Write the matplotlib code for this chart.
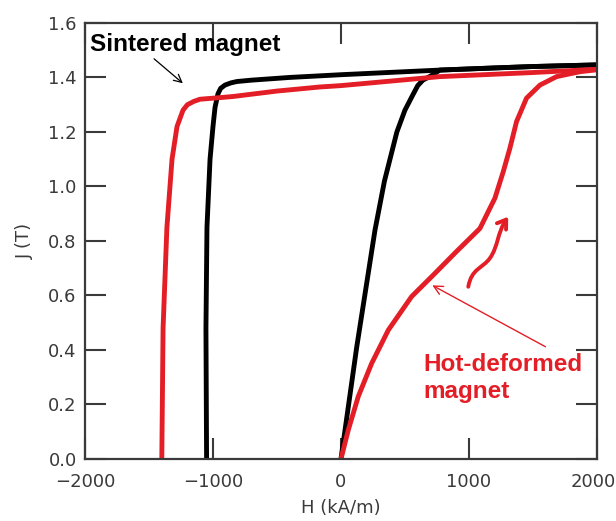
import matplotlib
matplotlib.use("Agg")
import matplotlib.pyplot as plt
import matplotlib.transforms as mtransforms
from matplotlib.path import Path
from matplotlib.patches import FancyArrowPatch

# ---- data ----
sint_init_H = [0, 123, 266, 340, 437, 500, 555, 600, 640, 700, 773, 1200, 1500, 2000]
sint_init_J = [0, 0.41, 0.84, 1.02, 1.2, 1.28, 1.33, 1.37, 1.39, 1.405, 1.427, 1.435, 1.44, 1.446]

sint_demag_H = [2000, 1500, 773, 0, -400, -700, -813, -860, -906, -940, -961, -984, -1000, -1023, -1047, -1055, -1050]
sint_demag_J = [1.446, 1.44, 1.427, 1.41, 1.40, 1.39, 1.385, 1.38, 1.372, 1.36, 1.34, 1.29, 1.22, 1.10, 0.85, 0.48, 0.0]

hot_init_H = [0, 57, 135, 240, 370, 552, 734, 900, 1086, 1203, 1268, 1320, 1372, 1450, 1555, 1685, 1867, 2000]
hot_init_J = [0, 0.106, 0.229, 0.351, 0.473, 0.596, 0.681, 0.76, 0.846, 0.957, 1.054, 1.14, 1.238, 1.324, 1.372, 1.403, 1.421, 1.428]

hot_demag_H = [2000, 1500, 773, 0, -164, -500, -844, -969, -1102, -1150, -1200, -1234, -1281, -1320, -1360, -1390, -1400]
hot_demag_J = [1.43, 1.418, 1.403, 1.37, 1.365, 1.35, 1.33, 1.325, 1.32, 1.312, 1.30, 1.28, 1.22, 1.10, 0.85, 0.48, 0.0]

x_ticks = [-2000, -1000, 0, 1000, 2000]
x_labels = ["\u22122000", "\u22121000", "0", "1000", "2000"]
y_ticks = [0.0, 0.2, 0.4, 0.6, 0.8, 1.0, 1.2, 1.4, 1.6]

BLACK = "#000000"
RED = "#e41e26"
GRAY = "#3a3a3a"
LW = 3.5

fig = plt.figure(figsize=(6.16, 5.21), dpi=100)
ax = fig.add_axes([0.138, 0.119, 0.831, 0.837])

ax.plot(sint_init_H, sint_init_J, color=BLACK, lw=LW, solid_joinstyle="round")
ax.plot(sint_demag_H, sint_demag_J, color=BLACK, lw=LW, solid_joinstyle="round")
ax.plot(hot_init_H, hot_init_J, color=RED, lw=LW, solid_joinstyle="round")
ax.plot(hot_demag_H, hot_demag_J, color=RED, lw=LW, solid_joinstyle="round")

ax.set_xlim(-2000, 2000)
ax.set_ylim(0, 1.6)
ax.set_xticks(x_ticks)
ax.set_xticklabels(x_labels)
ax.set_yticks(y_ticks)
ax.set_yticklabels([f"{v:.1f}" for v in y_ticks])
ax.tick_params(direction="in", length=15, width=1.5, color=GRAY,
               top=True, right=True, labelsize=13, labelcolor=GRAY)
ax.tick_params(axis="x", pad=10)
ax.tick_params(axis="y", pad=6)
for s in ax.spines.values():
    s.set_color(GRAY)
    s.set_linewidth(1.6)

# keep the last x tick label inside the figure edge
last = ax.get_xticklabels()[-1]
last.set_horizontalalignment("right")
last.set_transform(last.get_transform() +
                   mtransforms.ScaledTranslation(19 / 100, 0, fig.dpi_scale_trans))

ax.set_xlabel("H (kA/m)", fontsize=13, color=GRAY, labelpad=6)
ax.set_ylabel("J (T)", fontsize=13, color=GRAY, labelpad=10)

# annotations
ax.text(-1960, 1.52, "Sintered magnet", fontsize=17.5, fontweight="bold",
        family=["Liberation Sans", "DejaVu Sans"], color=BLACK, va="center", ha="left")
ax.annotate("", xy=(-1219, 1.372), xytext=(-1477, 1.475),
            arrowprops=dict(arrowstyle="->", color=BLACK, lw=0.9, mutation_scale=14))

ax.text(641, 0.297, "Hot-deformed\nmagnet", fontsize=17.5, fontweight="bold",
        family=["Liberation Sans", "DejaVu Sans"], color=RED, va="center", ha="left",
        linespacing=1.2)
ax.annotate("", xy=(695, 0.642), xytext=(1617, 0.407),
            arrowprops=dict(arrowstyle="->", color=RED, lw=1.0, mutation_scale=16))

verts = [(995, 0.632), (1020, 0.70), (1110, 0.70), (1164, 0.737),
         (1230, 0.78), (1220, 0.83), (1307, 0.889)]
codes = [Path.MOVETO, Path.CURVE4, Path.CURVE4, Path.CURVE4,
         Path.CURVE4, Path.CURVE4, Path.CURVE4]
wavy = FancyArrowPatch(path=Path(verts, codes), arrowstyle="->,head_length=6,head_width=4",
                       color=RED, lw=2.8)
ax.add_patch(wavy)

fig.savefig("out.png", dpi=100)
